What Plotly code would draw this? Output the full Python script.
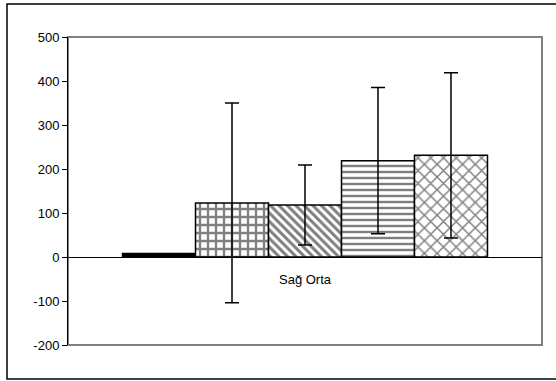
import plotly.graph_objects as go

categories = ["Sağ Orta"]
series_names = ["S1", "S2", "S3", "S4", "S5"]
values = [8, 123, 118, 219, 231]
errors = [0, 227, 91, 166, 188]
patterns = ["", "+", "\\", "-", "x"]
y_ticks = [-200, -100, 0, 100, 200, 300, 400, 500]
y_tick_labels = ["-200", "-100", "0", "100", "200", "300", "400", "500"]

fig = go.Figure()
for i, name in enumerate(series_names):
    if i == 0:
        marker = dict(color="black", line=dict(color="black", width=1.5))
    else:
        marker = dict(
            color="white",
            line=dict(color="black", width=1.5),
            pattern=dict(shape=patterns[i], fgcolor="black", bgcolor="white",
                         size=[0, 8, 6, 6, 9][i],
                         solidity=[0, 0.5, 0.5, 0.4, 0.3][i]),
        )
    fig.add_trace(go.Bar(
        x=categories, y=[values[i]], name=name, marker=marker,
        error_y=dict(type="data", array=[errors[i]], visible=errors[i] > 0,
                     color="black", thickness=1.5, width=7),
        showlegend=False,
    ))

fig.update_layout(
    width=556, height=381,
    margin=dict(l=68, r=14, t=37, b=36),
    paper_bgcolor="white", plot_bgcolor="white",
    barmode="group", bargap=0.23, bargroupgap=0,
    font=dict(family="Liberation Sans, Arial, sans-serif", size=13, color="black"),
    xaxis=dict(showticklabels=False, showgrid=False, zeroline=False, showline=False, ticks=""),
    yaxis=dict(range=[-200, 500], tickvals=y_ticks, ticktext=y_tick_labels, showgrid=False,
               zeroline=True, zerolinecolor="black", zerolinewidth=1,
               showline=True, linecolor="black", linewidth=1,
               ticks="outside", ticklen=5, tickcolor="black",
               tickfont=dict(size=13)),
    shapes=[
        dict(type="rect", xref="paper", yref="paper", x0=0, x1=1, y0=0, y1=1,
             line=dict(color="#808080", width=2), layer="below"),
        dict(type="rect", xref="paper", yref="paper",
             x0=(7 - 68) / 474, x1=(558 - 68) / 474,
             y0=(345 - 379) / 308, y1=(345 - 4) / 308,
             line=dict(color="black", width=1.5)),
    ],
    annotations=[dict(x=categories[0], y=0, xref="x", yref="y", text=categories[0],
                      showarrow=False, yanchor="top", yshift=-13,
                      font=dict(size=13))],
)

fig.write_html("out.html", config={"displayModeBar": False},
               post_script="document.body.style.margin='0';document.body.style.overflow='hidden';")
